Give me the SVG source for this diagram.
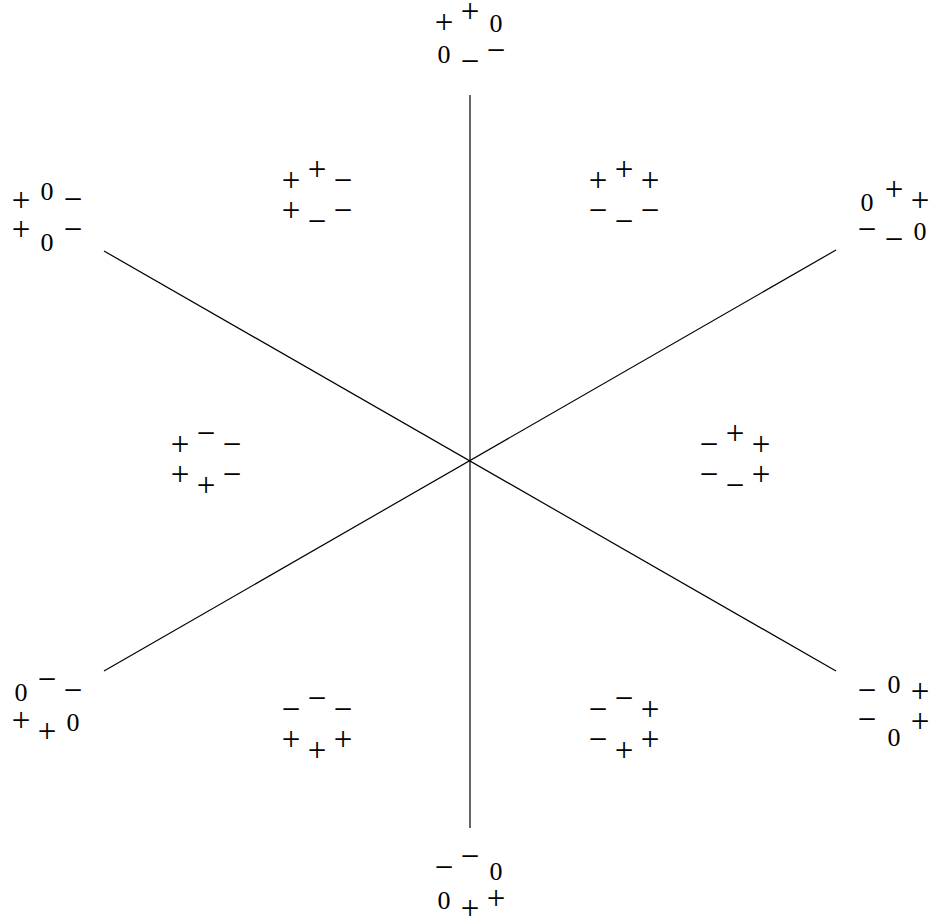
<svg xmlns="http://www.w3.org/2000/svg" width="932" height="921" viewBox="0 0 932 921">
<style>
.s{font-family:"Liberation Serif",serif;font-size:33px;text-anchor:middle;fill:#000}
.z{font-family:"Liberation Serif",serif;font-size:26px;text-anchor:middle;fill:#000}
.ln{stroke:#000;stroke-width:1.2;fill:none}
</style>
<rect width="932" height="921" fill="#fff"/>
<g id="connectors">
<line class="ln" x1="470" y1="95" x2="470" y2="828"/>
<line class="ln" x1="104" y1="251" x2="836" y2="671"/>
<line class="ln" x1="104" y1="671" x2="836" y2="250"/>
</g>
<g id="n-top" transform="translate(0,8.5)">
<text class="s" x="444" y="24">+</text><text class="s" x="470" y="13">+</text><text class="z" x="496" y="23">0</text>
<text class="z" x="444" y="54">0</text><text class="s" x="470" y="63">−</text><text class="s" x="496" y="52">−</text>
</g>
<g id="n-upper-left" transform="translate(0,8.5)">
<text class="s" x="21" y="202">+</text><text class="z" x="47" y="191">0</text><text class="s" x="73" y="201">−</text>
<text class="s" x="21" y="231">+</text><text class="z" x="47" y="242">0</text><text class="s" x="73" y="231">−</text>
</g>
<g id="n-sector-ul" transform="translate(0,8.5)">
<text class="s" x="291" y="182">+</text><text class="s" x="317" y="171">+</text><text class="s" x="343" y="182">−</text>
<text class="s" x="291" y="212">+</text><text class="s" x="317" y="223">−</text><text class="s" x="343" y="212">−</text>
</g>
<g id="n-sector-ur" transform="translate(0,8.5)">
<text class="s" x="598" y="182">+</text><text class="s" x="624" y="171">+</text><text class="s" x="650" y="182">+</text>
<text class="s" x="598" y="212">−</text><text class="s" x="624" y="223">−</text><text class="s" x="650" y="212">−</text>
</g>
<g id="n-upper-right" transform="translate(0,8.5)">
<text class="z" x="867" y="202">0</text><text class="s" x="894" y="191">+</text><text class="s" x="920" y="202">+</text>
<text class="s" x="867" y="231">−</text><text class="s" x="894" y="241">−</text><text class="z" x="920" y="231">0</text>
</g>
<g id="n-sector-l" transform="translate(0,8.5)">
<text class="s" x="180" y="446">+</text><text class="s" x="206" y="435">−</text><text class="s" x="232" y="446">−</text>
<text class="s" x="180" y="476">+</text><text class="s" x="206" y="487">+</text><text class="s" x="232" y="476">−</text>
</g>
<g id="n-sector-r" transform="translate(0,8.5)">
<text class="s" x="709" y="446">−</text><text class="s" x="735" y="435">+</text><text class="s" x="761" y="446">+</text>
<text class="s" x="709" y="476">−</text><text class="s" x="735" y="487">−</text><text class="s" x="761" y="476">+</text>
</g>
<g id="n-lower-left" transform="translate(0,8.5)">
<text class="z" x="21" y="692">0</text><text class="s" x="47" y="681">−</text><text class="s" x="73" y="692">−</text>
<text class="s" x="21" y="722">+</text><text class="s" x="47" y="733">+</text><text class="z" x="73" y="722">0</text>
</g>
<g id="n-sector-ll" transform="translate(0,8.5)">
<text class="s" x="291" y="711">−</text><text class="s" x="317" y="700">−</text><text class="s" x="343" y="711">−</text>
<text class="s" x="291" y="741">+</text><text class="s" x="317" y="752">+</text><text class="s" x="343" y="741">+</text>
</g>
<g id="n-sector-lr" transform="translate(0,8.5)">
<text class="s" x="598" y="711">−</text><text class="s" x="624" y="700">−</text><text class="s" x="650" y="711">+</text>
<text class="s" x="598" y="741">−</text><text class="s" x="624" y="752">+</text><text class="s" x="650" y="741">+</text>
</g>
<g id="n-lower-right" transform="translate(0,8.5)">
<text class="s" x="867" y="692">−</text><text class="z" x="894" y="684">0</text><text class="s" x="920" y="693">+</text>
<text class="s" x="867" y="721">−</text><text class="z" x="894" y="737">0</text><text class="s" x="920" y="723">+</text>
</g>
<g id="n-bottom" transform="translate(0,8.5)">
<text class="s" x="444" y="869">−</text><text class="s" x="470" y="858">−</text><text class="z" x="496" y="871">0</text>
<text class="z" x="444" y="900">0</text><text class="s" x="470" y="910">+</text><text class="s" x="496" y="900">+</text>
</g>
</svg>
